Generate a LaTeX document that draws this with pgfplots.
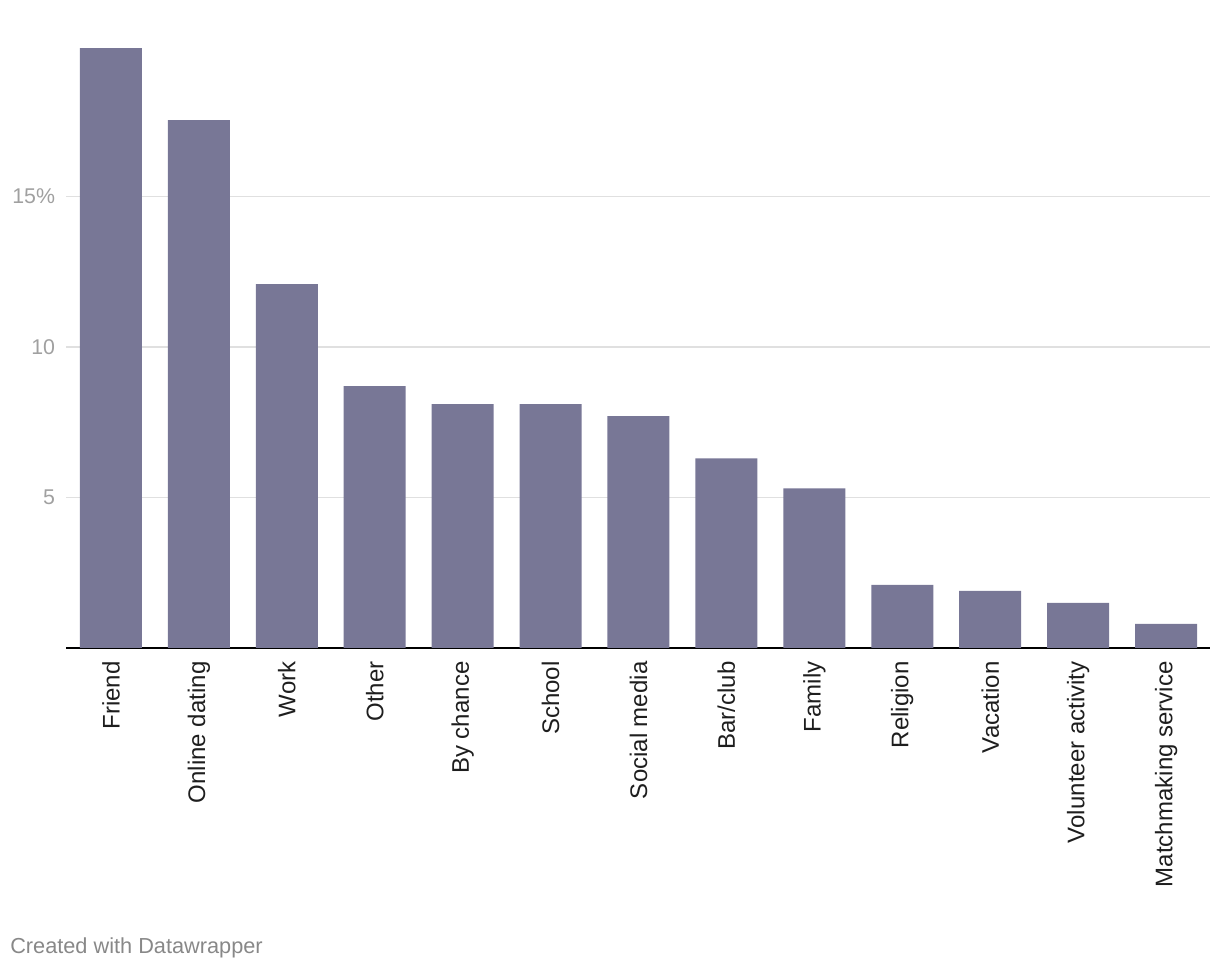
\documentclass[border=0pt]{standalone}
\usepackage{fontspec}
\setmainfont{Liberation Sans}
\usepackage{pgfplots}
\pgfplotsset{compat=1.18}
\definecolor{barc}{RGB}{120,119,150}
\definecolor{gridc}{RGB}{224,224,224}
\definecolor{tickc}{RGB}{160,160,160}
\definecolor{labc}{RGB}{30,30,30}
\definecolor{footc}{RGB}{136,136,136}
\begin{document}
\begin{tikzpicture}[x=0.75pt,y=0.75pt]
\useasboundingbox (0,0) rectangle (1220,974);
\begin{axis}[
  at={(49.5pt,244.5pt)}, anchor=south west,
  scale only axis, width=858pt, height=451.5pt,
  xmin=-0.511, xmax=12.5, ymin=0, ymax=20,
  axis lines=left,
  y axis line style={draw=none},
  x axis line style={-, line width=1.5pt, black},
  major tick length=0pt,
  ymajorgrids, grid style={gridc, line width=1.1pt},
  ytick={5,10,15}, yticklabels={5,10,15\%},
  yticklabel style={tickc, inner sep=0pt, anchor=east, font=\fontsize{16}{19}\selectfont},
  yticklabel shift=8pt,
  xtick={0,...,12},
  xticklabels={Friend,Online dating,Work,Other,By chance,School,Social media,Bar/club,Family,Religion,Vacation,Volunteer activity,Matchmaking service},
  xticklabel style={rotate=90, anchor=east, inner sep=0pt, labc, font=\fontsize{18}{21}\selectfont},
  xticklabel shift=10pt,
  clip=false,
]
\addplot[ybar, bar width=46.5pt, fill=barc, draw=none] coordinates {
(0,19.93) (1,17.54) (2,12.09) (3,8.7) (4,8.1) (5,8.1) (6,7.7) (7,6.3) (8,5.3) (9,2.1) (10,1.9) (11,1.5) (12,0.8)
};
\end{axis}
\node[anchor=west, inner sep=0pt, text=footc, font=\fontsize{16.3}{19}\selectfont] at (10,26) {Created with Datawrapper};
\end{tikzpicture}
\end{document}
